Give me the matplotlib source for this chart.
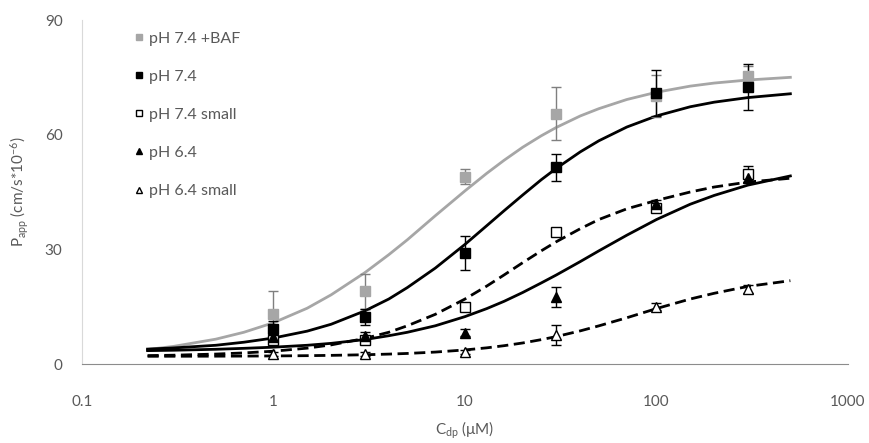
import matplotlib
matplotlib.use("Agg")
import matplotlib.pyplot as plt
from matplotlib.lines import Line2D

plt.rcParams['font.family'] = ['Lato', 'DejaVu Sans']
plt.rcParams['mathtext.default'] = 'regular'

# measured points (concentration in uM)
conc = [1, 3, 10, 30, 100, 300]

baf_vals = [13, 19, 49, 65.5, 70, 75.4]
baf_err = [6, 4.5, 2, 7, 5.5, 2.5]
ph74_vals = [9.2, 12.3, 29, 51.5, 71, 72.4]
ph74_err = [2, 2, 4.5, 3.5, 6, 6]
ph74s_vals = [6.3, 6.3, 15, 34.5, 40.8, 49.7]
ph74s_err = [0.8, 0.5, 0.5, 0.5, 1, 2]
ph64_vals = [7, 7.3, 8.2, 17.5, 41.9, 48.6]
ph64_err = [1, 1, 1, 2.6, 1, 1]
ph64s_vals = [2.6, 2.6, 3.2, 7.6, 15, 19.6]
ph64s_err = [0.5, 0.5, 0.5, 2.6, 1, 1]

# fitted curves
fit_x = [0.22, 0.3, 0.5, 0.7, 1, 1.5, 2, 3, 4, 5, 7, 10, 13, 16, 20, 25, 30, 40, 50, 70,
         100, 150, 200, 300, 500]
baf_fit = [3.8, 4.6, 6.5, 8.3, 10.8, 14.6, 18.1, 23.9, 28.6, 32.5, 38.8, 45.3, 49.9, 53.3,
           56.7, 59.7, 61.9, 64.9, 66.8, 69.2, 71.1, 72.7, 73.5, 74.3, 75.0]
ph74_fit = [3.9, 4.2, 4.9, 5.7, 6.8, 8.6, 10.4, 13.9, 17.0, 20.0, 25.1, 31.3, 36.2, 40.1,
            44.2, 48.2, 51.2, 55.5, 58.4, 62.0, 64.9, 67.3, 68.5, 69.7, 70.7]
ph74s_fit = [2.2, 2.3, 2.6, 2.9, 3.35, 4.15, 5.0, 6.7, 8.3, 10.0, 13.0, 17.0, 20.4, 23.3,
             26.5, 29.6, 32.0, 35.4, 37.8, 40.6, 42.8, 45.0, 46.3, 47.6, 48.6]
ph64_fit = [3.5, 3.6, 3.85, 4.1, 4.4, 4.9, 5.4, 6.4, 7.4, 8.3, 10.0, 12.4, 14.5, 16.4,
            18.7, 21.2, 23.3, 26.8, 29.6, 33.7, 37.8, 41.8, 44.1, 46.8, 49.2]
ph64s_fit = [2.02, 2.03, 2.05, 2.07, 2.11, 2.18, 2.26, 2.42, 2.59, 2.76, 3.12, 3.68, 4.23,
             4.79, 5.5, 6.37, 7.18, 8.67, 9.98, 12.1, 14.5, 17.0, 18.5, 20.3, 21.8]

labels = ['pH 7.4 +BAF', 'pH 7.4', 'pH 7.4 small', 'pH 6.4', 'pH 6.4 small']

grey = '#a6a6a6'
text_col = '#595959'

fig = plt.figure(figsize=(8.7, 4.43), dpi=100)
ax = fig.add_axes([82 / 870, 1 - 364 / 443, (848 - 82) / 870, (364 - 20) / 443])

# curves
ax.plot(fit_x, baf_fit, color=grey, lw=2)
ax.plot(fit_x, ph74_fit, color='black', lw=2)
ax.plot(fit_x, ph74s_fit, color='black', lw=2, ls=(0, (4, 2)))
ax.plot(fit_x, ph64_fit, color='black', lw=2)
ax.plot(fit_x, ph64s_fit, color='black', lw=2, ls=(0, (4, 2)))

# points with error bars
eb = dict(capsize=3.5, elinewidth=1, capthick=1, ls='none', markersize=6.5)
ax.errorbar(conc, baf_vals, yerr=baf_err, marker='s', color=grey, ecolor='#7f7f7f', mec=grey, **eb)
ax.errorbar(conc, ph74_vals, yerr=ph74_err, marker='s', color='black', ecolor='black', **eb)
ax.errorbar(conc, ph74s_vals, yerr=ph74s_err, marker='s', color='black', mfc='white', ecolor='black', **eb)
ax.errorbar(conc, ph64_vals, yerr=ph64_err, marker='^', color='black', ecolor='black', **eb)
ax.errorbar(conc, ph64s_vals, yerr=ph64s_err, marker='^', color='black', mfc='white', ecolor='black', **eb)

ax.set_xscale('log')
ax.set_xlim(0.1, 1000)
ax.set_ylim(0, 90)
ax.set_yticks([0, 30, 60, 90])
ax.set_xticks([0.1, 1, 10, 100, 1000])
ax.set_xticklabels(['0.1', '1', '10', '100', '1000'])
ax.minorticks_off()
ax.tick_params(axis='both', length=0, labelsize=11, labelcolor=text_col)
ax.tick_params(axis='y', pad=14)
ax.tick_params(axis='x', pad=22)

for side in ['top', 'right']:
    ax.spines[side].set_visible(False)
ax.spines['bottom'].set_color('#8c8c8c')
ax.spines['left'].set_color('#d9d9d9')

ax.set_xlabel('C$_{dp}$ ($\\mu$M)', fontsize=11, color=text_col, labelpad=8)
ax.set_ylabel('P$_{app}$ (cm/s*10$^{-6}$)', fontsize=11, color=text_col, labelpad=10)

handles = [
    Line2D([], [], ls='none', marker='s', color=grey, markersize=5),
    Line2D([], [], ls='none', marker='s', color='black', markersize=5),
    Line2D([], [], ls='none', marker='s', color='black', mfc='white', markersize=5),
    Line2D([], [], ls='none', marker='^', color='black', markersize=5),
    Line2D([], [], ls='none', marker='^', color='black', mfc='white', markersize=5),
]
leg = fig.legend(handles, labels, loc='upper left', bbox_to_anchor=(128 / 870, 1 - 25 / 443),
                 frameon=False, fontsize=11.5, labelspacing=1.5, handlelength=0.6,
                 handletextpad=0.3, borderaxespad=0)
for t in leg.get_texts():
    t.set_color(text_col)

fig.savefig('out.png', dpi=100)
